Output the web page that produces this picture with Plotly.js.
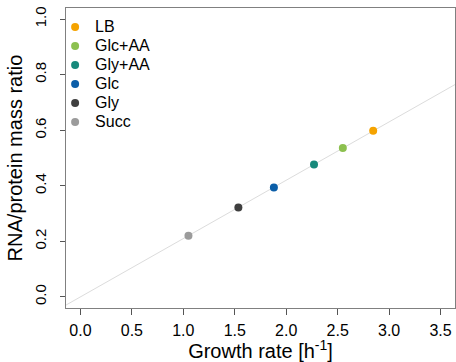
<!DOCTYPE html>
<html>
<head>
<meta charset="utf-8">
<script src="https://cdn.plot.ly/plotly-3.0.1.min.js"></script>
<style>html,body{margin:0;padding:0;background:#fff;}#chart{width:456px;height:362px;}</style>
</head>
<body>
<div id="chart"></div>
<script>
const conditions = ['LB', 'Glc+AA', 'Gly+AA', 'Glc', 'Gly', 'Succ'];
const growthRate = [2.845, 2.55, 2.27, 1.88, 1.535, 1.05];
const rnaProteinRatio = [0.598, 0.536, 0.477, 0.394, 0.322, 0.220];
const pointColors = ['#F5A300', '#8CC04F', '#17897B', '#0B5EA8', '#3F3F3F', '#9B9B9B'];
const fitX = [-0.2, 3.7];
const fitY = [-0.042, 0.777];
const xTicks = [0, 0.5, 1, 1.5, 2, 2.5, 3, 3.5];
const xTickLabels = ['0.0', '0.5', '1.0', '1.5', '2.0', '2.5', '3.0', '3.5'];
const yTicks = [0, 0.2, 0.4, 0.6, 0.8, 1.0];
const yTickLabels = ['0.0', '0.2', '0.4', '0.6', '0.8', '1.0'];

const FAM = 'Liberation Sans, Arial, Helvetica, sans-serif';
const traces = [{
  x: fitX, y: fitY, mode: 'lines', type: 'scatter',
  line: {color: '#dcdcdc', width: 1}, showlegend: false, hoverinfo: 'skip'
}];
conditions.forEach((c, i) => {
  traces.push({
    x: [growthRate[i]], y: [rnaProteinRatio[i]], mode: 'markers', type: 'scatter',
    name: '<span style="font-size:16px">' + c + '</span>',
    marker: {color: pointColors[i], size: 8}
  });
});

const layout = {
  width: 456, height: 362,
  margin: {l: 66, r: 1, t: 8, b: 54},
  paper_bgcolor: '#fff', plot_bgcolor: '#fff',
  font: {family: FAM, size: 14, color: '#000'},
  showlegend: true,
  legend: {x: -0.028, y: 0.985, xanchor: 'left', yanchor: 'top', bgcolor: 'rgba(0,0,0,0)',
           font: {family: FAM, size: 11.6, color: '#000'}, tracegroupgap: 0},
  xaxis: {
    range: [-0.14, 3.64], tickvals: xTicks, ticktext: xTickLabels,
    showgrid: false, zeroline: false, showline: true, mirror: true,
    linecolor: '#808080', linewidth: 1, ticks: 'outside', ticklen: 6, tickcolor: '#555',
    tickfont: {family: FAM, size: 16, color: '#000'}, ticklabelstandoff: 2,
    title: {text: 'Growth rate [h<sup>-1</sup>]', font: {family: FAM, size: 20, color: '#000'}, standoff: 0}
  },
  yaxis: {
    range: [-0.04, 1.04], tickvals: yTicks, ticktext: yTickLabels, tickangle: -90,
    showgrid: false, zeroline: false, showline: true, mirror: true,
    linecolor: '#808080', linewidth: 1, ticks: 'outside', ticklen: 5, tickcolor: '#555',
    tickfont: {family: FAM, size: 15, color: '#000'}, ticklabelstandoff: 8,
    title: {text: 'RNA/protein mass ratio', font: {family: FAM, size: 20, color: '#000'}, standoff: 4}
  }
};
Plotly.newPlot('chart', traces, layout, {displayModeBar: false, staticPlot: true});
</script>
</body>
</html>
